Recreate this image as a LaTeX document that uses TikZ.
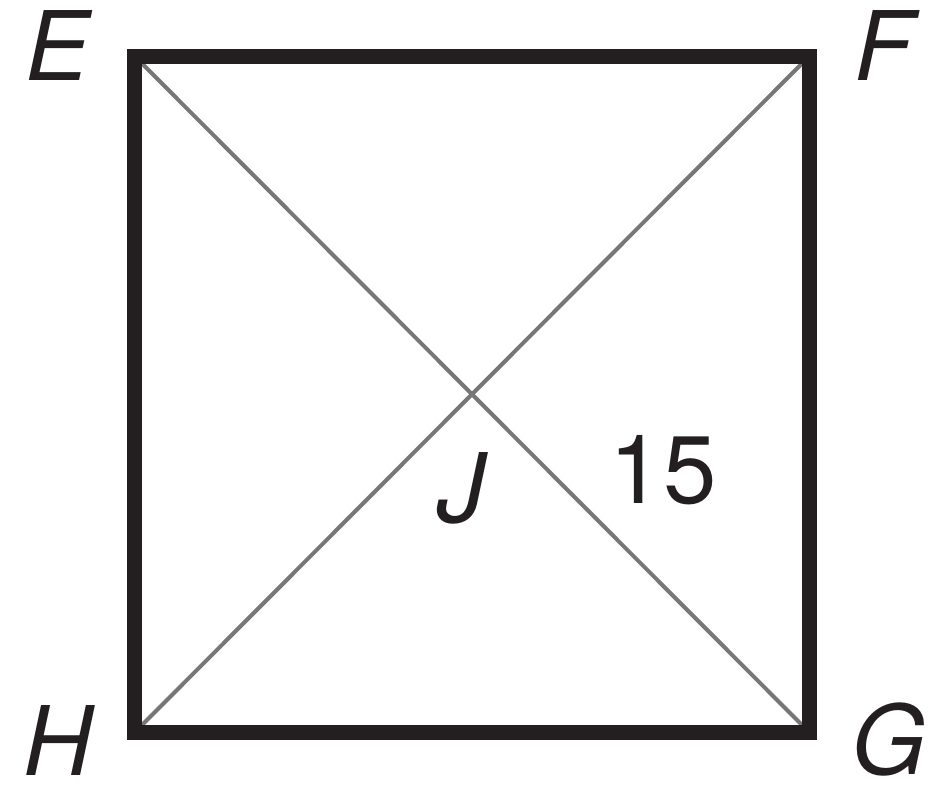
\documentclass[tikz,border=0pt]{standalone}
\usepackage{fontspec}
\setmainfont{TeX Gyre Heros}
\definecolor{ink}{HTML}{231F20}
\definecolor{diag}{HTML}{777777}
\tikzset{
  side/.style={draw=ink, line width=15pt, line join=miter},
  diagline/.style={draw=diag, line width=4pt},
  lbl/.style={inner sep=0pt, text=ink, font=\fontsize{96}{96}\selectfont\itshape},
  num/.style={inner sep=0pt, text=ink, font=\fontsize{96}{96}\selectfont}
}
\begin{document}
\begin{tikzpicture}[x=1pt, y=-1pt]
\useasboundingbox (0,0) rectangle (936,787);
\coordinate (E) at (134.5,56);
\coordinate (F) at (809.5,56);
\coordinate (G) at (809.5,732.5);
\coordinate (H) at (134.5,732.5);
\coordinate (Ei) at (142,63.5);
\coordinate (Fi) at (802,63.5);
\coordinate (Gi) at (802,725);
\coordinate (Hi) at (142,725);
\draw[diagline] (Ei) -- (Gi);
\draw[diagline] (Fi) -- (Hi);
\draw[side] (E) -- (F) -- (G) -- (H) -- cycle;
\node[lbl] (lE) at (58,46) {E};
\node[lbl] (lF) at (884,46) {F};
\node[lbl] (lH) at (58,740) {H};
\node[lbl] (lG) at (889,739) {G};
\node[lbl] (lJ) at (461,488) {J};
\node[num] (l15) at (663,470) {15};
\end{tikzpicture}
\end{document}
